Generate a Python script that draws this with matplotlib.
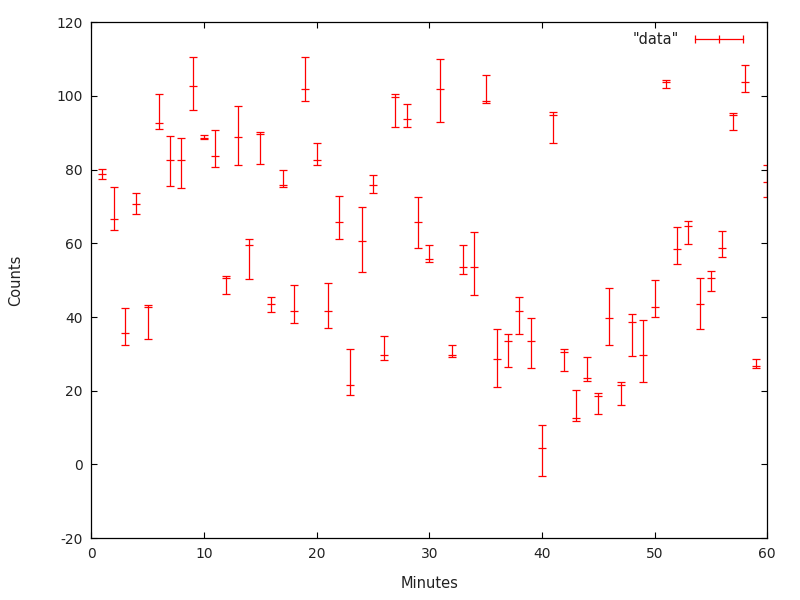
import numpy as np
import matplotlib
matplotlib.use("Agg")
import matplotlib.pyplot as plt
from matplotlib.lines import Line2D

plt.rcParams['axes.unicode_minus'] = False

# minutes 1..60, value, lower bound, upper bound
minutes = list(range(1, 61))
counts = [78.8, 66.6, 35.7, 70.6, 42.7, 92.6, 82.6, 82.6, 102.6, 88.7,
          83.7, 50.7, 88.8, 59.5, 89.8, 43.5, 75.8, 41.7, 101.8, 82.6,
          41.7, 65.8, 21.6, 60.6, 75.8, 29.7, 99.7, 93.7, 65.8, 55.7,
          101.8, 29.6, 53.6, 53.6, 98.6, 28.6, 33.5, 41.7, 33.5, 4.5,
          94.9, 30.5, 12.7, 23.4, 18.6, 39.8, 21.6, 38.7, 29.7, 42.7,
          103.8, 58.6, 64.7, 43.6, 50.6, 58.7, 94.8, 103.7, 26.7, 76.6]
low = [77.4, 63.6, 32.5, 67.9, 34.1, 91.0, 75.5, 75.0, 96.1, 88.2,
       80.7, 46.3, 81.2, 50.3, 81.5, 41.4, 75.2, 38.4, 98.6, 81.2,
       37.0, 61.2, 18.9, 52.2, 73.6, 28.4, 91.5, 91.5, 58.7, 54.9,
       92.9, 29.1, 51.7, 46.0, 98.2, 21.1, 26.5, 35.4, 26.2, -3.1,
       87.2, 25.4, 11.9, 22.7, 13.7, 32.4, 16.2, 29.5, 22.4, 40.0,
       102.1, 54.4, 59.8, 36.8, 47.1, 56.3, 90.7, 101.0, 26.2, 72.5]
high = [80.1, 75.3, 42.5, 73.6, 43.4, 100.5, 89.1, 88.5, 110.5, 89.4,
        90.7, 51.2, 97.2, 61.2, 90.2, 45.4, 79.9, 48.7, 110.5, 87.2,
        49.2, 72.8, 31.4, 69.8, 78.5, 34.9, 100.5, 97.7, 72.5, 59.5,
        110.0, 32.4, 59.5, 63.1, 105.6, 36.8, 35.4, 45.4, 39.8, 10.8,
        95.6, 31.4, 20.2, 29.2, 19.4, 47.9, 22.4, 40.8, 39.2, 50.1,
        104.3, 64.4, 66.0, 50.6, 52.5, 63.3, 95.3, 108.3, 28.6, 81.2]

x = np.array(minutes)
y = np.array(counts)
yerr = [y - np.array(low), np.array(high) - y]

fig = plt.figure(figsize=(8, 6), dpi=100)
ax = fig.add_axes([0.114, 0.103, 0.845, 0.860])

ax.errorbar(x, y, yerr=yerr, fmt='_', color='red', ecolor='red',
            elinewidth=0.9, capsize=3, capthick=0.9, markersize=6,
            markeredgewidth=0.9)

ax.set_xlim(0, 60)
ax.set_ylim(-20, 120)
ax.set_xticks(np.arange(0, 61, 10))
ax.set_yticks(np.arange(-20, 121, 20))
ax.tick_params(direction='in', length=4.5, width=0.8, top=True, right=True,
               labelsize=10, pad=6, labelcolor='#222222')
for s in ax.spines.values():
    s.set_linewidth(0.9)

ax.set_xlabel("Minutes", fontsize=10.5, labelpad=11, color='#222222')
ax.set_ylabel("Counts", fontsize=10.5, labelpad=24, color='#222222')

handle = Line2D([], [], color='red', lw=0.9, marker='|', markersize=6,
                markeredgewidth=0.9)
leg = ax.legend([handle], ['"data"'], numpoints=3, markerfirst=False,
                frameon=False, loc='upper right', fontsize=10.5,
                handlelength=3.9, borderaxespad=0.3,
                bbox_to_anchor=(0.986, 1.0))
for t in leg.get_texts():
    t.set_color('#222222')

fig.savefig("out.png", dpi=100)
